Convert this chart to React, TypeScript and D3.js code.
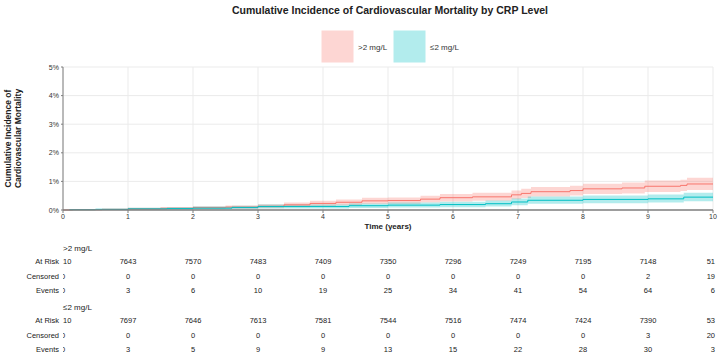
import React from 'react';
import * as d3 from 'd3';

// cumulative incidence (%) step points
const highTime = [0, 0.15, 0.6, 1.0, 1.5, 2.0, 2.5, 3.0, 3.4, 3.8, 4.2, 4.6, 5.0, 5.5, 5.8, 6.3, 6.9, 7.05, 7.2, 7.8, 8.0, 8.6, 8.95, 9.5, 9.6, 10];
const highEst = [0, 0.01, 0.02, 0.04, 0.06, 0.08, 0.10, 0.13, 0.18, 0.23, 0.27, 0.32, 0.33, 0.38, 0.43, 0.46, 0.53, 0.58, 0.64, 0.68, 0.74, 0.77, 0.83, 0.86, 0.91, 0.91];
const highLo = [0, 0.0, 0.0, 0.01, 0.02, 0.03, 0.04, 0.06, 0.10, 0.14, 0.17, 0.21, 0.22, 0.26, 0.30, 0.32, 0.38, 0.42, 0.47, 0.51, 0.56, 0.58, 0.63, 0.66, 0.70, 0.70];
const highHi = [0, 0.03, 0.05, 0.08, 0.10, 0.13, 0.16, 0.20, 0.26, 0.32, 0.37, 0.43, 0.44, 0.50, 0.56, 0.60, 0.68, 0.74, 0.80, 0.85, 0.92, 0.96, 1.03, 1.06, 1.13, 1.13];

const lowTime = [0.1, 0.5, 1.0, 1.6, 2.0, 2.6, 3.0, 4.0, 4.4, 5.0, 5.8, 6.5, 6.9, 7.15, 8.0, 9.0, 9.55, 10];
const lowEst = [0.01, 0.02, 0.04, 0.05, 0.065, 0.09, 0.12, 0.12, 0.15, 0.17, 0.19, 0.22, 0.28, 0.34, 0.37, 0.39, 0.45, 0.45];
const lowLo = [0, 0, 0.01, 0.01, 0.02, 0.03, 0.05, 0.05, 0.07, 0.09, 0.10, 0.12, 0.17, 0.22, 0.24, 0.26, 0.31, 0.31];
const lowHi = [0.03, 0.05, 0.08, 0.10, 0.12, 0.15, 0.19, 0.19, 0.23, 0.26, 0.29, 0.33, 0.40, 0.47, 0.51, 0.54, 0.60, 0.60];

const years = [0, 1, 2, 3, 4, 5, 6, 7, 8, 9, 10];
const yTicks = [0, 1, 2, 3, 4, 5];

const highAtRisk = [7710, 7643, 7570, 7483, 7409, 7350, 7296, 7249, 7195, 7148, 51];
const highCensored = [0, 0, 0, 0, 0, 0, 0, 0, 0, 2, 19];
const highEvents = [0, 3, 6, 10, 19, 25, 34, 41, 54, 64, 6];
const lowAtRisk = [7710, 7697, 7646, 7613, 7581, 7544, 7516, 7474, 7424, 7390, 53];
const lowCensored = [0, 0, 0, 0, 0, 0, 0, 0, 0, 3, 20];
const lowEvents = [0, 3, 5, 9, 9, 13, 15, 22, 28, 30, 3];

const RED = '#F8766D';
const TEAL = '#00BFC4';
const FONT = '"Liberation Sans", Arial, sans-serif';

const W = 719;
const H = 355;
const margin = { left: 63, right: 6, top: 67, bottom: 145 };

export default function App() {
  const x = d3.scaleLinear().domain([0, 10]).range([margin.left, W - margin.right]);
  const y = d3.scaleLinear().domain([0, 5]).range([H - margin.bottom, margin.top]);

  const mkLine = (t: number[], v: number[]) =>
    d3.line<number>().x((_, i) => x(t[i])).y(d => y(d)).curve(d3.curveStepAfter)(v) || '';
  const mkArea = (t: number[], lo: number[], hi: number[]) =>
    d3.area<number>().x((_, i) => x(t[i])).y0((_, i) => y(lo[i])).y1(d => y(d)).curve(d3.curveStepAfter)(hi) || '';

  const tableRows = [
    { label: 'At Risk', vals: highAtRisk, y: 264 },
    { label: 'Censored', vals: highCensored, y: 279 },
    { label: 'Events', vals: highEvents, y: 293 },
    { label: 'At Risk', vals: lowAtRisk, y: 323 },
    { label: 'Censored', vals: lowCensored, y: 338 },
    { label: 'Events', vals: lowEvents, y: 352 },
  ];

  const y0 = y(0);
  const yTop = y(5);

  return (
    <svg width={W} height={H} style={{ position: 'absolute', left: 0, top: 0, background: '#fff' }} fontFamily={FONT}>
      <defs>
        <clipPath id="tableClip">
          <rect x={margin.left} y={230} width={W} height={H} />
        </clipPath>
      </defs>

      <text x={390} y={14} textAnchor="middle" fontSize={10.5} fontWeight="bold" fill="#222">
        Cumulative Incidence of Cardiovascular Mortality by CRP Level
      </text>

      {/* legend */}
      <rect x={321} y={30} width={33} height={33} fill={RED} fillOpacity={0.3} stroke="#fff" />
      <text x={358} y={50} fontSize={8} fill="#333">&gt;2 mg/L</text>
      <rect x={393} y={30} width={33} height={33} fill={TEAL} fillOpacity={0.3} stroke="#fff" />
      <text x={430} y={50} fontSize={8} fill="#333">≤2 mg/L</text>

      {/* grid */}
      {yTicks.map(t => (
        <line key={'gy' + t} x1={margin.left} x2={W - margin.right} y1={y(t)} y2={y(t)} stroke="#ebebeb" strokeWidth={1} />
      ))}
      {years.map(t => (
        <line key={'gx' + t} x1={x(t)} x2={x(t)} y1={yTop} y2={y0} stroke="#ebebeb" strokeWidth={1} />
      ))}

      {/* bands and lines */}
      <path d={mkArea(highTime, highLo, highHi)} fill={RED} fillOpacity={0.3} />
      <path d={mkArea(lowTime, lowLo, lowHi)} fill={TEAL} fillOpacity={0.3} />
      <path d={mkLine(highTime, highEst)} fill="none" stroke={RED} strokeWidth={1} />
      <path d={mkLine(lowTime, lowEst)} fill="none" stroke={TEAL} strokeWidth={1} />

      {/* axes */}
      <line x1={margin.left} x2={margin.left} y1={yTop} y2={y0} stroke="#7f7f7f" strokeWidth={1} />
      {yTicks.map(t => (
        <g key={'yt' + t}>
          <line x1={margin.left - 2} x2={margin.left} y1={y(t)} y2={y(t)} stroke="#7f7f7f" />
          <text x={margin.left - 4} y={y(t) + 2.5} textAnchor="end" fontSize={7} fill="#333">{t}%</text>
        </g>
      ))}
      <line x1={margin.left} x2={W - margin.right} y1={y0} y2={y0} stroke="#7f7f7f" strokeWidth={1.5} />
      {years.map(t => (
        <g key={'xt' + t}>
          <line x1={x(t)} x2={x(t)} y1={y0} y2={y0 + 3} stroke="#7f7f7f" />
          <text x={x(t)} y={y0 + 8.5} textAnchor="middle" fontSize={7} fill="#333">{t}</text>
        </g>
      ))}
      <text x={(margin.left + W - margin.right) / 2} y={y0 + 19} textAnchor="middle" fontSize={8} fontWeight="bold" fill="#222">
        Time (years)
      </text>
      <text transform={`translate(11, ${(y0 + yTop) / 2}) rotate(-90)`} textAnchor="middle" fontSize={8.5} fontWeight="bold" fill="#222">
        <tspan x={0} dy={0}>Cumulative Incidence of</tspan>
        <tspan x={0} dy={9.5}>Cardiovascular Mortality</tspan>
      </text>

      {/* risk table */}
      <text x={margin.left} y={251} fontSize={8} fill="#222">&gt;2 mg/L</text>
      <text x={margin.left} y={310} fontSize={8} fill="#222">≤2 mg/L</text>
      {tableRows.map((r, ri) => (
        <g key={'row' + ri}>
          <text x={59} y={r.y} textAnchor="end" fontSize={7.5} fill="#222">{r.label}</text>
          <g clipPath="url(#tableClip)">
            {r.vals.map((v, i) => (
              <text key={i} x={x(years[i])} y={r.y} textAnchor={i === 10 ? 'end' : 'middle'} fontSize={7.5} fill="#222"
                dx={i === 10 ? 2 : 0}>
                {v}
              </text>
            ))}
          </g>
        </g>
      ))}
    </svg>
  );
}
